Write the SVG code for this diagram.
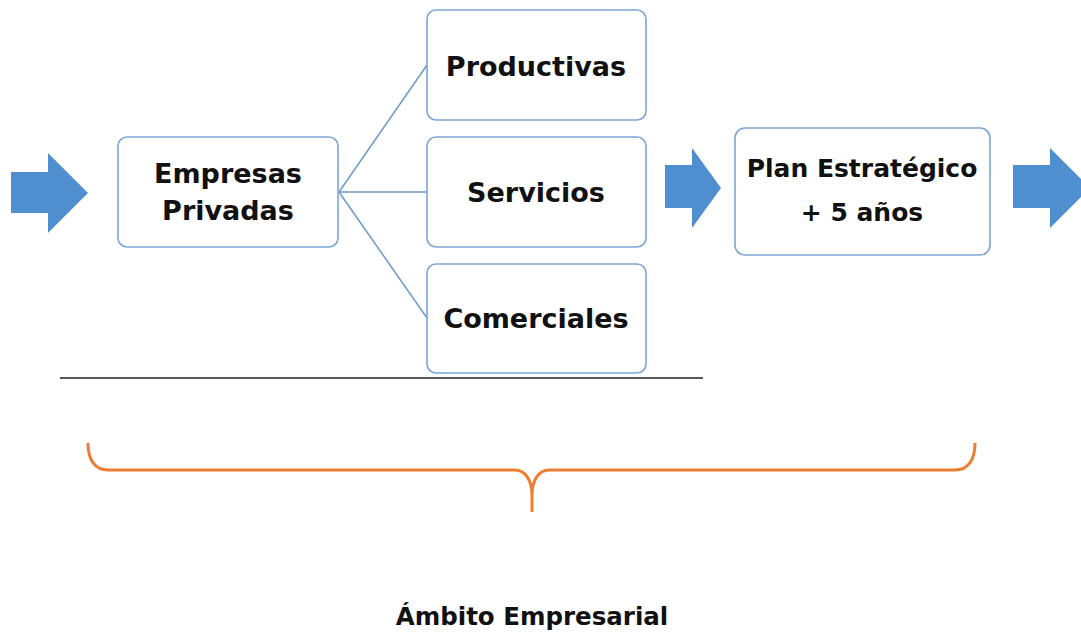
<svg xmlns="http://www.w3.org/2000/svg" width="1081" height="637" viewBox="0 0 1081 637">
<style>
.box{fill:#fff;stroke:#7ba6d6;stroke-width:1.6}
.arrow{fill:#4f8fcf}
.t{font-family:"DejaVu Sans","Liberation Sans",sans-serif;font-weight:bold;fill:#111;text-anchor:middle}
.conn{stroke:#6b9bcb;stroke-width:1.5;fill:none}
</style>
<rect width="1081" height="637" fill="#fff"/>
<g id="arrow-left"><polygon class="arrow" points="11,172 48,172 48,153 88,193 48,233 48,213 11,213"/></g>
<g id="connectors">
<line class="conn" x1="339" y1="192" x2="427" y2="65"/>
<line class="conn" x1="339" y1="192" x2="427" y2="192"/>
<line class="conn" x1="339" y1="192" x2="427" y2="318"/>
</g>
<g id="empresas"><rect class="box" x="118" y="137" width="220" height="110" rx="9"/>
<text class="t" x="228" y="183" font-size="27">Empresas</text>
<text class="t" x="228" y="220" font-size="27">Privadas</text></g>
<g id="productivas"><rect class="box" x="427" y="10" width="219" height="110" rx="9"/>
<text class="t" x="536" y="76" font-size="27">Productivas</text></g>
<g id="servicios"><rect class="box" x="427" y="137" width="219" height="110" rx="9"/>
<text class="t" x="536" y="202" font-size="27">Servicios</text></g>
<g id="comerciales"><rect class="box" x="427" y="264" width="219" height="109" rx="9"/>
<text class="t" x="536" y="328" font-size="27">Comerciales</text></g>
<g id="line"><line x1="60" y1="378" x2="703" y2="378" stroke="#222" stroke-width="1.5"/></g>
<g id="arrow-mid"><polygon class="arrow" points="665,165 692,165 692,148 721,188 692,228 692,208 665,208"/></g>
<g id="plan"><rect class="box" x="735" y="128" width="255" height="127" rx="10"/>
<text class="t" x="862" y="177" font-size="25">Plan Estratégico</text>
<text class="t" x="862" y="221" font-size="25">+ 5 años</text></g>
<g id="arrow-right"><polygon class="arrow" points="1013,165 1050,165 1050,148 1090,188 1050,228 1050,208 1013,208"/></g>
<g id="brace"><path d="M88,443 C88,460 95,470 108,470 L515,470 C525,470 532,480 532,495 L532,512 M532,495 C532,480 539,470 549,470 L955,470 C968,470 975,460 975,443" fill="none" stroke="#ed7d31" stroke-width="3"/></g>
<g id="label"><text class="t" x="532" y="625" font-size="24.5">Ámbito Empresarial</text></g>
</svg>
